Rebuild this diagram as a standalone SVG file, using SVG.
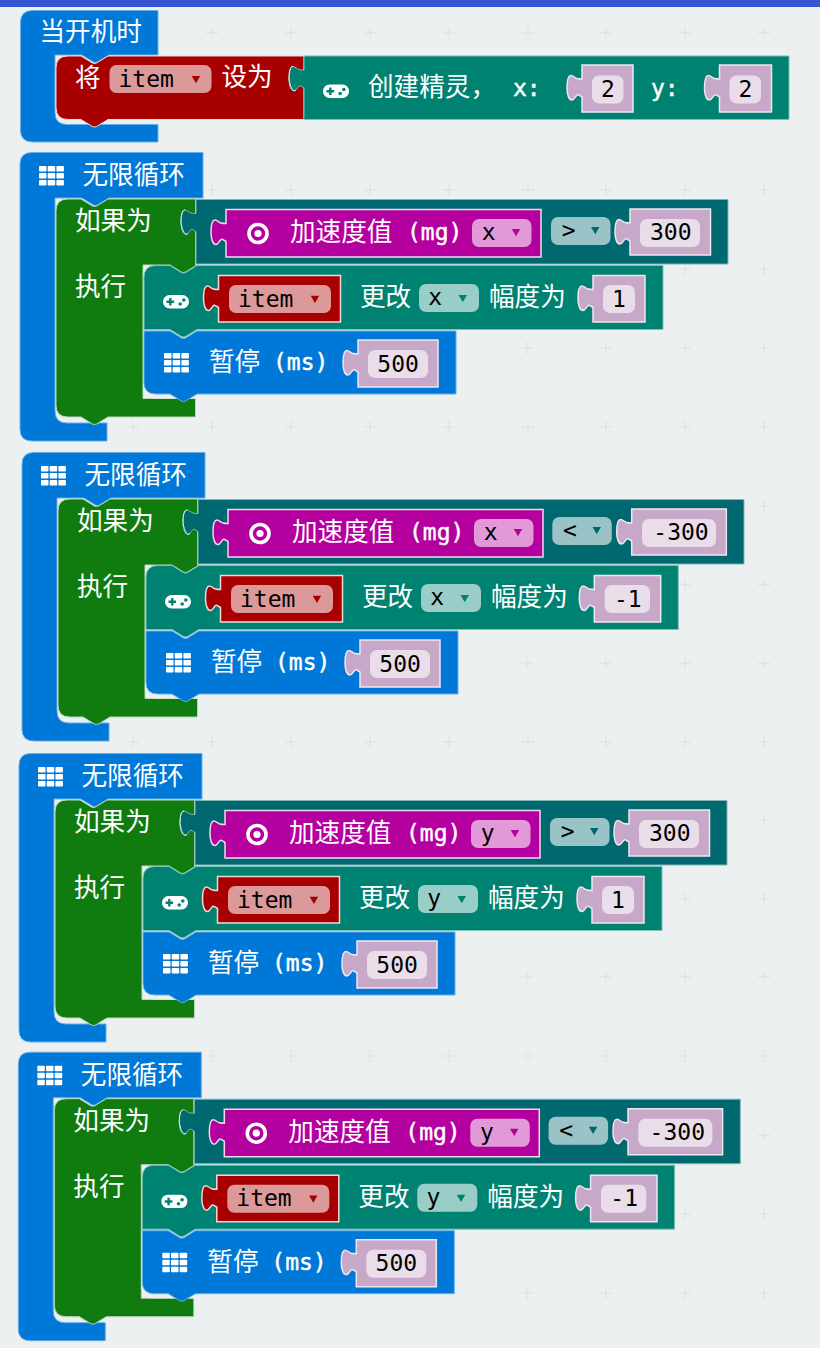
<svg xmlns="http://www.w3.org/2000/svg" width="820" height="1348" viewBox="0 0 820 1348">
<style>
.w{font-family:"Noto Sans CJK SC","Liberation Sans",sans-serif;font-size:25.6px;fill:#fff}
.wm{font-family:"DejaVu Sans Mono","Liberation Mono",monospace;font-size:23px;fill:#fff;stroke:#fff;stroke-width:.45}
.k{font-family:"DejaVu Sans Mono","Liberation Mono",monospace;font-size:23px;fill:#000}
.blue{fill:#0078d7;stroke:#66aee7;stroke-width:1}
.green{fill:#107c10;stroke:#b7d8b7;stroke-width:1}
.red{fill:#a80000;stroke:#f0d9d9;stroke-width:1}
.teal{fill:#008272;stroke:#7fc0b8;stroke-width:1}
.dteal{fill:#006970;stroke:#7fb4b7;stroke-width:1}
.mag{fill:#b4009e;stroke:#f0d9ec;stroke-width:1.5}
.redb{fill:#a80000;stroke:#f0d9d9;stroke-width:1.5}
.val{fill:#c8a8c8;stroke:#eee6ee;stroke-width:1.5}
.chip-val{fill:#e9dde9}
.chip-red{fill:#dc9999}
.chip-mag{fill:#e199d8}
.chip-dt{fill:#99c3c6}
.chip-t{fill:#99cdc7}
.tabline{fill:none;stroke:#fff;stroke-width:1;stroke-opacity:.85}
</style>
<defs>
<path id="tabline" class="tabline" d="M-8,34 C-10,35.5 -13,35 -15,23 C-15,16 -14,10.5 -11,10.5"/>
<g id="i-grid" fill="#fff">
<rect x="0" y="0" width="7.5" height="5.6" rx=".8"/><rect x="8.7" y="0" width="7.5" height="5.6" rx=".8"/><rect x="17.4" y="0" width="7.5" height="5.6" rx=".8"/>
<rect x="0" y="7" width="7.5" height="5.6" rx=".8"/><rect x="8.7" y="7" width="7.5" height="5.6" rx=".8"/><rect x="17.4" y="7" width="7.5" height="5.6" rx=".8"/>
<rect x="0" y="14" width="7.5" height="5.6" rx=".8"/><rect x="8.7" y="14" width="7.5" height="5.6" rx=".8"/><rect x="17.4" y="14" width="7.5" height="5.6" rx=".8"/>
</g>
<g id="i-pad">
<rect x="0" y="0" width="26" height="13.4" rx="6.5" fill="#fff"/>
<path d="M3.5,6.8 h7.6 M7.3,3 v7.6" stroke="#008272" stroke-width="2.4" fill="none"/>
<circle cx="17.2" cy="9" r="1.8" fill="#008272"/><circle cx="20.8" cy="5" r="1.8" fill="#008272"/>
</g>
<g id="i-target">
<circle cx="0" cy="0" r="9" fill="none" stroke="#fff" stroke-width="3.6"/>
<circle cx="0" cy="0" r="3.6" fill="#fff"/>
</g>
<g id="loop-frame">
<path class="blue" d="M32,152.5 H203 V198 H109 l-9,5.5 q-2.5,2 -4.5,2 q-2,0 -4.5,-2 l-9,-5.5 H55 V411 Q55,423 67,423 H107 V441 H32 Q20,441 20,429 V164.5 Q20,152.5 32,152.5 Z"/>
<path class="green" d="M68,199 H81 l9,5.5 q2.5,2 4.5,2 q2,0 4.5,-2 l9,-5.5 H195.5 V265 H197 l-9,5.5 q-2.5,2 -4.5,2 q-2,0 -4.5,-2 l-9,-5.5 H143 V398.5 H195.5 V417 H108 l-9,5.5 q-2.5,2 -4.5,2 q-2,0 -4.5,-2 l-9,-5.5 H68 Q56,417 56,405 V211 Q56,199 68,199 Z"/>
<path fill="#ecf0f1" d="M143,331 H195.5 V398.5 H155 Q143,398.5 143,386.5 Z"/>
<path class="blue" d="M144,331 H170 l9,5.5 q2.5,2 4.5,2 q2,0 4.5,-2 l9,-5.5 H456 V394 H197 l-9,5.5 q-2.5,2 -4.5,2 q-2,0 -4.5,-2 l-9,-5.5 H156 Q144,394 144,382 Z"/>
</g>
<path id="change-l" d="M156,265.5 H170 l9,5.5 q2.5,2 4.5,2 q2,0 4.5,-2 l9,-5.5 H663 V329.5 H197 l-9,5.5 q-2.5,2 -4.5,2 q-2,0 -4.5,-2 l-9,-5.5 H144 V277.5 Q144,265.5 156,265.5 Z"/>
<path id="change-w" d="M156,265.5 H170 l9,5.5 q2.5,2 4.5,2 q2,0 4.5,-2 l9,-5.5 H676.3 V329.5 H197 l-9,5.5 q-2.5,2 -4.5,2 q-2,0 -4.5,-2 l-9,-5.5 H144 V277.5 Q144,265.5 156,265.5 Z"/>
<path id="pill-tri" d="M0,0 h8.5 l-4.25,7.3 Z"/>
<path id="item-block" class="redb" d="M0,0 H122 V46.5 H0 V32 C-2,31 -4,29 -5,30 C-7,32 -8,35 -10,35 C-13,35 -15,30 -15,23 C-15,16 -14,10.5 -11,10.5 C-9,10.5 -7,13 -5,13.5 C-3,14 -1,14 0,14 Z"/>
<path id="accel-block" class="mag" d="M0,0 H315 V47.5 H0 V32 C-2,31 -4,29 -5,30 C-7,32 -8,35 -10,35 C-13,35 -15,30 -15,23 C-15,16 -14,10.5 -11,10.5 C-9,10.5 -7,13 -5,13.5 C-3,14 -1,14 0,14 Z"/>
<path id="val-500" class="val" d="M0,0 H80 V47 H0 V32 C-2,31 -4,29 -5,30 C-7,32 -8,35 -10,35 C-13,35 -15,30 -15,23 C-15,16 -14,10.5 -11,10.5 C-9,10.5 -7,13 -5,13.5 C-3,14 -1,14 0,14 Z"/>
<path id="val-300" class="val" d="M0,0 H80.5 V46 H0 V32 C-2,31 -4,29 -5,30 C-7,32 -8,35 -10,35 C-13,35 -15,30 -15,23 C-15,16 -14,10.5 -11,10.5 C-9,10.5 -7,13 -5,13.5 C-3,14 -1,14 0,14 Z"/>
<path id="val-m300" class="val" d="M0,0 H94.6 V46 H0 V32 C-2,31 -4,29 -5,30 C-7,32 -8,35 -10,35 C-13,35 -15,30 -15,23 C-15,16 -14,10.5 -11,10.5 C-9,10.5 -7,13 -5,13.5 C-3,14 -1,14 0,14 Z"/>
<path id="val-1" class="val" d="M0,0 H52 V46.5 H0 V32 C-2,31 -4,29 -5,30 C-7,32 -8,35 -10,35 C-13,35 -15,30 -15,23 C-15,16 -14,10.5 -11,10.5 C-9,10.5 -7,13 -5,13.5 C-3,14 -1,14 0,14 Z"/>
<path id="val-m1" class="val" d="M0,0 H66.4 V46.5 H0 V32 C-2,31 -4,29 -5,30 C-7,32 -8,35 -10,35 C-13,35 -15,30 -15,23 C-15,16 -14,10.5 -11,10.5 C-9,10.5 -7,13 -5,13.5 C-3,14 -1,14 0,14 Z"/>
<path id="cond-l" class="dteal" d="M0,0 H532 V64.5 H0 V32 C-2,31 -4,29 -5,30 C-7,32 -8,35 -10,35 C-13,35 -15,30 -15,23 C-15,16 -14,10.5 -11,10.5 C-9,10.5 -7,13 -5,13.5 C-3,14 -1,14 0,14 Z"/>
<path id="cond-w" class="dteal" d="M0,0 H546 V64.5 H0 V32 C-2,31 -4,29 -5,30 C-7,32 -8,35 -10,35 C-13,35 -15,30 -15,23 C-15,16 -14,10.5 -11,10.5 C-9,10.5 -7,13 -5,13.5 C-3,14 -1,14 0,14 Z"/>
</defs>

<rect width="820" height="1348" fill="#ecf0f1"/>
<g id="grid">
<path fill="none" stroke="#e0e5e7" stroke-width="1.5" d="M206,33h12M212,27v12M285,33h12M291,27v12M364,33h12M370,27v12M443,33h12M449,27v12M522,33h12M528,27v12M600,33h12M606,27v12M679,33h12M685,27v12M758,33h12M764,27v12
M206,190h12M212,184v12M285,190h12M291,184v12M364,190h12M370,184v12M443,190h12M449,184v12M522,190h12M528,184v12M600,190h12M606,184v12M679,190h12M685,184v12M758,190h12M764,184v12
M679,269h12M685,263v12M758,269h12M764,263v12
M521,348h12M527,342v12M600,348h12M606,342v12M679,348h12M685,342v12M758,348h12M764,342v12
M127,427h12M133,421v12M206,427h12M212,421v12M285,427h12M291,421v12M364,427h12M370,421v12M443,427h12M449,421v12M522,427h12M528,421v12M600,427h12M606,421v12M679,427h12M685,421v12M758,427h12M764,421v12
M758,506h12M764,500v12M679,585h12M685,579v12M758,585h12M764,579v12
M521,663h12M527,657v12M600,663h12M606,657v12M679,663h12M685,657v12M758,663h12M764,657v12
M127,742h12M133,736v12M206,742h12M212,736v12M285,742h12M291,736v12M364,742h12M370,736v12M443,742h12M449,736v12M522,742h12M528,736v12M600,742h12M606,736v12M679,742h12M685,736v12M758,742h12M764,736v12
M758,820h12M764,814v12M679,899h12M685,893v12M758,899h12M764,893v12
M521,977h12M527,971v12M600,977h12M606,971v12M679,977h12M685,971v12M758,977h12M764,971v12
M206,1056h12M212,1050v12M285,1056h12M291,1050v12M364,1056h12M370,1050v12M443,1056h12M449,1050v12M522,1056h12M528,1050v12M600,1056h12M606,1050v12M679,1056h12M685,1050v12M758,1056h12M764,1050v12
M758,1135h12M764,1129v12M679,1214h12M685,1208v12M758,1214h12M764,1208v12
M521,1293h12M527,1287v12M600,1293h12M606,1287v12M679,1293h12M685,1287v12M758,1293h12M764,1287v12"/>
</g>
<rect id="topbar" width="820" height="7" fill="#3454d1"/>

<g id="on-start">
<path class="blue" d="M33,10.5 H158 V55 H109 l-9,5.5 q-2.5,2 -4.5,2 q-2,0 -4.5,-2 l-9,-5.5 H55 V112.5 Q55,124.5 67,124.5 H158 V142 H33 Q20.5,142 20.5,130 V22.5 Q20.5,10.5 33,10.5 Z"/>
<text class="w" x="39.5" y="41">当开机时</text>
<path class="red" d="M68,56 H81 l9,5.5 q2.5,2 4.5,2 q2,0 4.5,-2 l9,-5.5 H304 V119.5 H108 l-9,5.5 q-2.5,2 -4.5,2 q-2,0 -4.5,-2 l-9,-5.5 H68 Q56,119.5 56,107.5 V68 Q56,56 68,56 Z"/>
<text class="w" x="75" y="87">将</text>
<rect class="chip-red" x="109.5" y="65" width="102" height="28" rx="7"/>
<text class="k" x="118.5" y="87">item</text>
<use href="#pill-tri" x="191.7" y="76" fill="#a80000"/>
<text class="w" x="221.5" y="86">设为</text>
<path transform="translate(304,56)" fill="#008272" stroke="#7fc0b8" d="M0,0 H485 V63.5 H0 V32 C-2,31 -4,29 -5,30 C-7,32 -8,35 -10,35 C-13,35 -15,30 -15,23 C-15,16 -14,10.5 -11,10.5 C-9,10.5 -7,13 -5,13.5 C-3,14 -1,14 0,14 Z"/>
<use href="#tabline" x="304" y="56"/>
<use href="#i-pad" x="323" y="84.5"/>
<text class="w" x="368" y="96">创建精灵，</text>
<text class="wm" x="513" y="96">x:</text>
<path transform="translate(582,65)" class="val" d="M0,0 H51 V47 H0 V32 C-2,31 -4,29 -5,30 C-7,32 -8,35 -10,35 C-13,35 -15,30 -15,23 C-15,16 -14,10.5 -11,10.5 C-9,10.5 -7,13 -5,13.5 C-3,14 -1,14 0,14 Z"/>
<rect class="chip-val" x="592" y="75.5" width="31.5" height="28" rx="7"/>
<text class="k" x="601" y="97">2</text>
<text class="wm" x="651" y="96">y:</text>
<path transform="translate(719.5,65)" class="val" d="M0,0 H52 V47 H0 V32 C-2,31 -4,29 -5,30 C-7,32 -8,35 -10,35 C-13,35 -15,30 -15,23 C-15,16 -14,10.5 -11,10.5 C-9,10.5 -7,13 -5,13.5 C-3,14 -1,14 0,14 Z"/>
<rect class="chip-val" x="729.5" y="75.5" width="31.5" height="28" rx="7"/>
<text class="k" x="738.5" y="97">2</text>
</g>

<g id="forever-1">
<use href="#loop-frame"/>
<use href="#i-grid" x="39" y="166"/>
<text class="w" x="82.5" y="184">无限循环</text>
<text class="w" x="75" y="230">如果为</text>
<text class="w" x="75" y="296">执行</text>
<use href="#cond-l" x="196" y="199.5"/>
<use href="#tabline" x="196" y="199.5"/>
<use href="#accel-block" x="226" y="209.5"/>
<use href="#i-target" x="258" y="233.5"/>
<text class="w" x="290" y="241">加速度值</text>
<text class="wm" x="407" y="240">(mg)</text>
<rect class="chip-mag" x="472" y="219" width="59.5" height="28" rx="7"/>
<text class="k" x="481.7" y="240">x</text>
<use href="#pill-tri" x="511.7" y="229" fill="#b4009e"/>
<rect class="chip-dt" x="551" y="217" width="59.5" height="28" rx="7"/>
<text class="k" x="561.7" y="238">&gt;</text>
<use href="#pill-tri" x="591" y="227" fill="#006970"/>
<use href="#val-300" x="630" y="209"/>
<rect class="chip-val" x="640" y="219" width="60" height="28" rx="7"/>
<text class="k" x="650" y="240">300</text>
<use href="#change-l" class="teal"/>
<use href="#i-pad" x="163" y="295"/>
<use href="#item-block" x="218.5" y="275.5"/>
<rect class="chip-red" x="229" y="285" width="102" height="28" rx="7"/>
<text class="k" x="238" y="306.5">item</text>
<use href="#pill-tri" x="310.7" y="295.7" fill="#a80000"/>
<text class="w" x="360" y="306">更改</text>
<rect class="chip-t" x="419" y="284" width="60" height="28" rx="7"/>
<text class="k" x="428.3" y="305">x</text>
<use href="#pill-tri" x="458.5" y="295" fill="#008272"/>
<text class="w" x="489" y="306">幅度为</text>
<use href="#val-1" x="593" y="275.5"/>
<rect class="chip-val" x="603" y="285" width="32" height="28" rx="7"/>
<text class="k" x="612" y="306.5">1</text>
<use href="#i-grid" x="164" y="353"/>
<text class="w" x="209" y="371">暂停</text>
<text class="wm" x="273" y="370">(ms)</text>
<use href="#val-500" x="358" y="340"/>
<rect class="chip-val" x="368" y="350" width="60" height="28" rx="7"/>
<text class="k" x="377.3" y="371.5">500</text>
</g>

<g id="forever-2" transform="translate(2,300)">
<use href="#loop-frame"/>
<use href="#i-grid" x="39" y="166"/>
<text class="w" x="82.5" y="184">无限循环</text>
<text class="w" x="75" y="230">如果为</text>
<text class="w" x="75" y="296">执行</text>
<use href="#cond-w" x="196" y="199.5"/>
<use href="#tabline" x="196" y="199.5"/>
<use href="#accel-block" x="226" y="209.5"/>
<use href="#i-target" x="258" y="233.5"/>
<text class="w" x="290" y="241">加速度值</text>
<text class="wm" x="407" y="240">(mg)</text>
<rect class="chip-mag" x="472" y="219" width="59.5" height="28" rx="7"/>
<text class="k" x="481.7" y="240">x</text>
<use href="#pill-tri" x="511.7" y="229" fill="#b4009e"/>
<rect class="chip-dt" x="550.3" y="217" width="59.5" height="28" rx="7"/>
<text class="k" x="561" y="238">&lt;</text>
<use href="#pill-tri" x="590.5" y="227" fill="#006970"/>
<use href="#val-m300" x="629.7" y="209"/>
<rect class="chip-val" x="640" y="219" width="74" height="28" rx="7"/>
<text class="k" x="651.3" y="240">-300</text>
<use href="#change-w" class="teal"/>
<use href="#i-pad" x="163" y="295"/>
<use href="#item-block" x="218.5" y="275.5"/>
<rect class="chip-red" x="229" y="285" width="102" height="28" rx="7"/>
<text class="k" x="238" y="306.5">item</text>
<use href="#pill-tri" x="310.7" y="295.7" fill="#a80000"/>
<text class="w" x="360" y="306">更改</text>
<rect class="chip-t" x="419" y="284" width="60" height="28" rx="7"/>
<text class="k" x="428.3" y="305">x</text>
<use href="#pill-tri" x="458.5" y="295" fill="#008272"/>
<text class="w" x="489" y="306">幅度为</text>
<use href="#val-m1" x="592.3" y="275.5"/>
<rect class="chip-val" x="602.7" y="285" width="45.3" height="28" rx="7"/>
<text class="k" x="612" y="306.5">-1</text>
<use href="#i-grid" x="164" y="353"/>
<text class="w" x="209" y="371">暂停</text>
<text class="wm" x="273" y="370">(ms)</text>
<use href="#val-500" x="358" y="340"/>
<rect class="chip-val" x="368" y="350" width="60" height="28" rx="7"/>
<text class="k" x="377.3" y="371.5">500</text>
</g>

<g id="forever-3" transform="translate(-1,601)">
<use href="#loop-frame"/>
<use href="#i-grid" x="39" y="166"/>
<text class="w" x="82.5" y="184">无限循环</text>
<text class="w" x="75" y="230">如果为</text>
<text class="w" x="75" y="296">执行</text>
<use href="#cond-l" x="196" y="199.5"/>
<use href="#tabline" x="196" y="199.5"/>
<use href="#accel-block" x="226" y="209.5"/>
<use href="#i-target" x="258" y="233.5"/>
<text class="w" x="290" y="241">加速度值</text>
<text class="wm" x="407" y="240">(mg)</text>
<rect class="chip-mag" x="472" y="219" width="59.5" height="28" rx="7"/>
<text class="k" x="481.7" y="240">y</text>
<use href="#pill-tri" x="511.7" y="229" fill="#b4009e"/>
<rect class="chip-dt" x="551" y="217" width="59.5" height="28" rx="7"/>
<text class="k" x="561.7" y="238">&gt;</text>
<use href="#pill-tri" x="591" y="227" fill="#006970"/>
<use href="#val-300" x="630" y="209"/>
<rect class="chip-val" x="640" y="219" width="60" height="28" rx="7"/>
<text class="k" x="650" y="240">300</text>
<use href="#change-l" class="teal"/>
<use href="#i-pad" x="163" y="295"/>
<use href="#item-block" x="218.5" y="275.5"/>
<rect class="chip-red" x="229" y="285" width="102" height="28" rx="7"/>
<text class="k" x="238" y="306.5">item</text>
<use href="#pill-tri" x="310.7" y="295.7" fill="#a80000"/>
<text class="w" x="360" y="306">更改</text>
<rect class="chip-t" x="419" y="284" width="60" height="28" rx="7"/>
<text class="k" x="428.3" y="305">y</text>
<use href="#pill-tri" x="458.5" y="295" fill="#008272"/>
<text class="w" x="489" y="306">幅度为</text>
<use href="#val-1" x="593" y="275.5"/>
<rect class="chip-val" x="603" y="285" width="32" height="28" rx="7"/>
<text class="k" x="612" y="306.5">1</text>
<use href="#i-grid" x="164" y="353"/>
<text class="w" x="209" y="371">暂停</text>
<text class="wm" x="273" y="370">(ms)</text>
<use href="#val-500" x="358" y="340"/>
<rect class="chip-val" x="368" y="350" width="60" height="28" rx="7"/>
<text class="k" x="377.3" y="371.5">500</text>
</g>

<g id="forever-4" transform="translate(-1.7,899.7)">
<use href="#loop-frame"/>
<use href="#i-grid" x="39" y="166"/>
<text class="w" x="82.5" y="184">无限循环</text>
<text class="w" x="75" y="230">如果为</text>
<text class="w" x="75" y="296">执行</text>
<use href="#cond-w" x="196" y="199.5"/>
<use href="#tabline" x="196" y="199.5"/>
<use href="#accel-block" x="226" y="209.5"/>
<use href="#i-target" x="258" y="233.5"/>
<text class="w" x="290" y="241">加速度值</text>
<text class="wm" x="407" y="240">(mg)</text>
<rect class="chip-mag" x="472" y="219" width="59.5" height="28" rx="7"/>
<text class="k" x="481.7" y="240">y</text>
<use href="#pill-tri" x="511.7" y="229" fill="#b4009e"/>
<rect class="chip-dt" x="550.3" y="217" width="59.5" height="28" rx="7"/>
<text class="k" x="561" y="238">&lt;</text>
<use href="#pill-tri" x="590.5" y="227" fill="#006970"/>
<use href="#val-m300" x="629.7" y="209"/>
<rect class="chip-val" x="640" y="219" width="74" height="28" rx="7"/>
<text class="k" x="651.3" y="240">-300</text>
<use href="#change-w" class="teal"/>
<use href="#i-pad" x="163" y="295"/>
<use href="#item-block" x="218.5" y="275.5"/>
<rect class="chip-red" x="229" y="285" width="102" height="28" rx="7"/>
<text class="k" x="238" y="306.5">item</text>
<use href="#pill-tri" x="310.7" y="295.7" fill="#a80000"/>
<text class="w" x="360" y="306">更改</text>
<rect class="chip-t" x="419" y="284" width="60" height="28" rx="7"/>
<text class="k" x="428.3" y="305">y</text>
<use href="#pill-tri" x="458.5" y="295" fill="#008272"/>
<text class="w" x="489" y="306">幅度为</text>
<use href="#val-m1" x="592.3" y="275.5"/>
<rect class="chip-val" x="602.7" y="285" width="45.3" height="28" rx="7"/>
<text class="k" x="612" y="306.5">-1</text>
<use href="#i-grid" x="164" y="353"/>
<text class="w" x="209" y="371">暂停</text>
<text class="wm" x="273" y="370">(ms)</text>
<use href="#val-500" x="358" y="340"/>
<rect class="chip-val" x="368" y="350" width="60" height="28" rx="7"/>
<text class="k" x="377.3" y="371.5">500</text>
</g>
</svg>
